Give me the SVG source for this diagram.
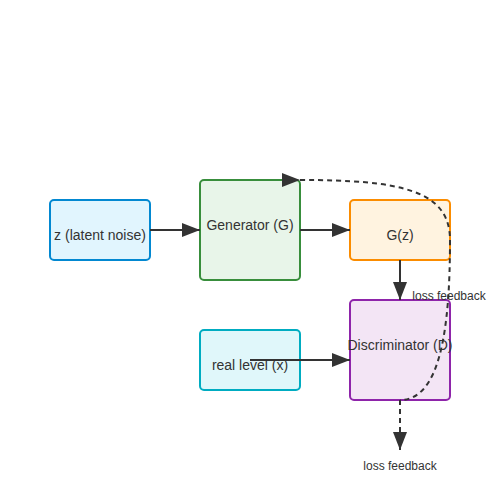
<svg xmlns="http://www.w3.org/2000/svg" width="500" height="500" viewBox="0 0 500 500">
<defs>
<marker id="arrow" viewBox="0 0 18 14" refX="18" refY="7" markerWidth="18" markerHeight="14" markerUnits="userSpaceOnUse" orient="auto">
<path d="M0,0 L18,7 L0,14 Z" fill="#333"/>
</marker>
<style>
.node rect{stroke-width:2}
.label{font-family:"Liberation Sans",Arial,sans-serif;font-size:14px;fill:#333;text-anchor:middle}
.elabel{font-family:"Liberation Sans",Arial,sans-serif;font-size:12px;fill:#333;text-anchor:middle}
.edge{fill:none;stroke:#333;stroke-width:2}
.dash{stroke-dasharray:5,4}
</style>
</defs>
<rect width="500" height="500" fill="#fff"/>
<g id="z" class="node">
<rect x="50" y="200" width="100" height="60" rx="4" fill="#e1f5fe" stroke="#0288d1"/>
<text class="label" x="100" y="240">z (latent noise)</text>
</g>
<g id="generator" class="node">
<rect x="200" y="180" width="100" height="100" rx="4" fill="#e8f5e9" stroke="#388e3c"/>
<text class="label" x="250" y="230">Generator (G)</text>
</g>
<g id="gz" class="node">
<rect x="350" y="200" width="100" height="60" rx="4" fill="#fff3e0" stroke="#fb8c00"/>
<text class="label" x="400" y="240">G(z)</text>
</g>
<g id="real" class="node">
<rect x="200" y="330" width="100" height="60" rx="4" fill="#e0f7fa" stroke="#00acc1"/>
<text class="label" x="250" y="370">real level (x)</text>
</g>
<g id="discriminator" class="node">
<rect x="350" y="300" width="100" height="100" rx="4" fill="#f3e5f5" stroke="#8e24aa"/>
<text class="label" x="400" y="350">Discriminator (D)</text>
</g>
<g id="connectors">
<line class="edge" x1="150" y1="230" x2="200" y2="230" marker-end="url(#arrow)"/>
<line class="edge" x1="300" y1="230" x2="350" y2="230" marker-end="url(#arrow)"/>
<line class="edge" x1="400" y1="260" x2="400" y2="300" marker-end="url(#arrow)"/>
<line class="edge" x1="250" y1="360" x2="350" y2="360" marker-end="url(#arrow)"/>
<path class="edge dash" d="M300,180 C400,180 450,190 450,240 C450,330 440,400 400,400" marker-start="url(#arrow)"/>
<line class="edge dash" x1="400" y1="400" x2="400" y2="450" marker-end="url(#arrow)"/>
<text class="elabel" x="449" y="300">loss feedback</text>
<text class="elabel" x="400" y="470">loss feedback</text>
</g>
</svg>
